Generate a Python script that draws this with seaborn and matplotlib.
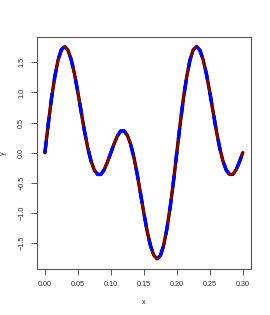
import numpy as np
import pandas as pd
import matplotlib
matplotlib.use("Agg")
import matplotlib.pyplot as plt
import seaborn as sns

x_vals = [0.000, 0.005, 0.010, 0.015, 0.020, 0.025, 0.030, 0.035, 0.040, 0.045,
          0.050, 0.055, 0.060, 0.065, 0.070, 0.075, 0.080, 0.085, 0.090, 0.095,
          0.100, 0.105, 0.110, 0.115, 0.120, 0.125, 0.130, 0.135, 0.140, 0.145,
          0.150, 0.155, 0.160, 0.165, 0.170, 0.175, 0.180, 0.185, 0.190, 0.195,
          0.200, 0.205, 0.210, 0.215, 0.220, 0.225, 0.230, 0.235, 0.240, 0.245,
          0.250, 0.255, 0.260, 0.265, 0.270, 0.275, 0.280, 0.285, 0.290, 0.295,
          0.300]
y_vals = [0.00, 0.47, 0.90, 1.26, 1.54, 1.71, 1.76, 1.70, 1.54, 1.30,
          1.00, 0.68, 0.36, 0.08, -0.14, -0.29, -0.36, -0.36, -0.28, -0.15,
          0.00, 0.15, 0.28, 0.36, 0.36, 0.29, 0.14, -0.08, -0.36, -0.68,
          -1.00, -1.30, -1.54, -1.70, -1.76, -1.71, -1.54, -1.26, -0.90, -0.47,
          0.00, 0.47, 0.90, 1.26, 1.54, 1.71, 1.76, 1.70, 1.54, 1.30,
          1.00, 0.68, 0.36, 0.08, -0.14, -0.29, -0.36, -0.36, -0.28, -0.15,
          0.00]
x_ticks = [0.00, 0.05, 0.10, 0.15, 0.20, 0.25, 0.30]
x_tick_labels = ["0.00", "0.05", "0.10", "0.15", "0.20", "0.25", "0.30"]
y_ticks = [-1.5, -1.0, -0.5, 0.0, 0.5, 1.0, 1.5]
y_tick_labels = ["\u22121.5", "\u22121.0", "\u22120.5", "0.0", "0.5", "1.0", "1.5"]

sns.set_theme(style="white")
plt.rcParams['font.family'] = ['Liberation Sans', 'DejaVu Sans']

df = pd.DataFrame({"x": x_vals, "y": y_vals})

fig = plt.figure(figsize=(2.70, 3.15), dpi=100)
ax = fig.add_axes([0.137, 0.146, 0.7915, 0.7365])

sns.lineplot(data=df, x="x", y="y", ax=ax, color="black", linewidth=2.4, sort=False)
sns.lineplot(data=df, x="x", y="y", ax=ax, color="#8B0000", linewidth=1.9, sort=False)
sns.lineplot(data=df, x="x", y="y", ax=ax, color="#0000FF", linewidth=2.4,
             linestyle=(0, (3.6, 3.6)), sort=False)

ax.set_xlim(-0.012, 0.312)
ax.set_ylim(-1.93, 1.92)
ax.set_xticks(x_ticks)
ax.set_xticklabels(x_tick_labels)
ax.set_yticks(y_ticks)
ax.set_yticklabels(y_tick_labels, rotation=90, va="center")
ax.tick_params(axis="both", direction="out", length=4.5, width=0.7, color="#555555",
               labelsize=5.2, pad=4, bottom=True, left=True)
for s in ax.spines.values():
    s.set_color("#555555")
    s.set_linewidth(0.8)
ax.set_xlabel("x", fontsize=5.2, labelpad=8)
ax.set_ylabel("y", fontsize=5.2, labelpad=8)

fig.savefig("out.png", dpi=100, facecolor="white")
